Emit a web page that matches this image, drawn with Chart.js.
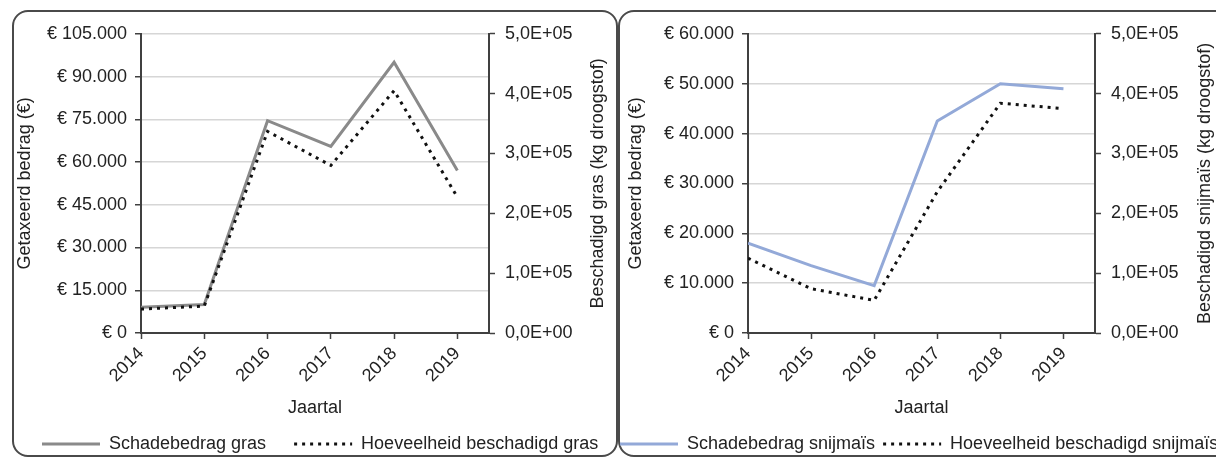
<!DOCTYPE html>
<html>
<head>
<meta charset="utf-8">
<script src="https://cdn.jsdelivr.net/npm/chart.js@4.4.1/dist/chart.umd.min.js"></script>
<style>
  html, body { margin: 0; padding: 0; background: #fff; overflow: hidden; }
  #wrap { position: relative; width: 1216px; height: 457px; overflow: hidden; }
  .frame { position: absolute; border: 2px solid #4a4a4a; border-radius: 16px; box-sizing: border-box; }
  canvas { position: absolute; }
</style>
</head>
<body>
<div id="wrap">
  <div class="frame" style="left:12px;top:10px;width:606px;height:447px"></div>
  <div class="frame" style="left:618px;top:10px;width:660px;height:447px"></div>
  <canvas id="gras" width="640" height="450" style="left:14px;top:13px"></canvas>
  <canvas id="mais" width="700" height="450" style="left:612px;top:13px"></canvas>
</div>
<script>
// data
var years = [2014, 2015, 2016, 2017, 2018, 2019];
var grasBedrag = [9000, 10000, 74500, 65500, 95000, 57000];
var grasHoeveelheid = [40000, 45000, 337000, 280000, 405000, 227000];
var maisBedrag = [18000, 13500, 9500, 42500, 50000, 49000];
var maisHoeveelheid = [125000, 74000, 54500, 236000, 384000, 375000];

var grasEuroTicks = [0, 15000, 30000, 45000, 60000, 75000, 90000, 105000];
var maisEuroTicks = [0, 10000, 20000, 30000, 40000, 50000, 60000];
var kgTicks = [0, 100000, 200000, 300000, 400000, 500000];

var FONT = { family: "'Liberation Sans', Arial, sans-serif", size: 18 };
var TXT = "#222";
var AX = "#404040";
var GRID = "#d6d6d6";

function euro(v) {
  var s = String(Math.round(v)).replace(/\B(?=(\d{3})+(?!\d))/g, ".");
  return "€ " + s;
}
function expo(v) {
  var p = Number(v).toExponential(1).split("e");
  var sign = p[1].charAt(0) === "-" ? "-" : "+";
  var d = p[1].replace(/[+-]/, "");
  if (d.length < 2) d = "0" + d;
  return p[0].replace(".", ",") + "E" + sign + d;
}
function pts(vals) {
  return years.map(function (y, i) { return { x: y, y: vals[i] }; });
}

// right axis title reads bottom-to-top, Chart.js would rotate it the other way
var rightTitle = {
  id: "rightTitle",
  afterDraw: function (chart, args, opts) {
    var ctx = chart.ctx, a = chart.chartArea;
    ctx.save();
    ctx.translate(opts.x, (a.top + a.bottom) / 2);
    ctx.rotate(-Math.PI / 2);
    ctx.font = FONT.size + "px " + FONT.family;
    ctx.fillStyle = TXT;
    ctx.textAlign = "center";
    ctx.textBaseline = "middle";
    ctx.fillText(opts.text, 0, 0);
    ctx.restore();
  }
};

// legend line keeps the dataset's dash pattern
function legendLabels(chart) {
  var items = Chart.defaults.plugins.legend.labels.generateLabels(chart);
  items.forEach(function (it) {
    var ds = chart.data.datasets[it.datasetIndex];
    it.lineDash = ds.borderDash || [];
    it.lineWidth = ds.borderWidth;
    it.strokeStyle = ds.borderColor;
  });
  return items;
}

function getChart(canvasId, cfg) {
  var cv = document.getElementById(canvasId);
  var H = cv.height;
  return new Chart(cv, {
    type: "line",
    data: {
      datasets: [
        {
          label: cfg.label1, data: pts(cfg.bedrag), yAxisID: "y",
          borderColor: cfg.color, backgroundColor: cfg.color, borderWidth: 3,
          pointRadius: 0, pointStyle: "line", tension: 0, order: 1
        },
        {
          label: cfg.label2, data: pts(cfg.hoeveelheid), yAxisID: "y2",
          borderColor: "#111", backgroundColor: "#111", borderWidth: 3, borderDash: [3, 5],
          pointRadius: 0, pointStyle: "line", tension: 0, order: 0
        }
      ]
    },
    options: {
      responsive: false,
      animation: false,
      layout: { padding: { top: 16, bottom: 0, left: 0, right: 0 } },
      plugins: {
        tooltip: { enabled: false },
        legend: {
          position: "bottom",
          align: "start",
          labels: {
            usePointStyle: true, pointStyleWidth: 58, padding: cfg.legendPad,
            color: TXT, font: FONT,
            generateLabels: legendLabels,
            sort: function (a, b) { return a.datasetIndex - b.datasetIndex; }
          }
        },
        rightTitle: { text: cfg.rightTitle, x: cfg.rightTitleX }
      },
      scales: {
        x: {
          type: "linear", min: years[0], max: years[years.length - 1] + 0.5,
          afterBuildTicks: function (s) { s.ticks = years.map(function (v) { return { value: v }; }); },
          afterFit: function (s) { s.height = H - s.chart.legend.height - (333 - 13); },
          grid: { drawOnChartArea: false, tickLength: 6, tickColor: AX, tickWidth: 1.5 },
          border: { color: AX, width: 2 },
          ticks: { minRotation: 45, maxRotation: 45, padding: 4, color: TXT, font: FONT,
                   callback: function (v) { return String(v); } },
          title: { display: true, text: "Jaartal", color: TXT, font: FONT,
                   padding: { top: 0, bottom: 16 - cfg.legendPad } }
        },
        y: {
          position: "left", min: 0, max: cfg.euroTicks[cfg.euroTicks.length - 1],
          afterBuildTicks: function (s) { s.ticks = cfg.euroTicks.map(function (v) { return { value: v }; }); },
          afterFit: function (s) { s.width = cfg.leftW; },
          grid: { color: GRID, lineWidth: 1.5, tickLength: 6, tickColor: AX, tickWidth: 1.5 },
          border: { color: AX, width: 2 },
          ticks: { padding: 8, color: TXT, font: FONT, callback: euro },
          title: { display: true, text: "Getaxeerd bedrag (€)", color: TXT, font: FONT,
                   padding: { top: cfg.leftTitlePad, bottom: 0 } }
        },
        y2: {
          position: "right", min: 0, max: 500000,
          afterBuildTicks: function (s) { s.ticks = kgTicks.map(function (v) { return { value: v }; }); },
          afterFit: function (s) { s.width = cfg.rightW; },
          grid: { drawOnChartArea: false, tickLength: 6, tickColor: AX, tickWidth: 1.5 },
          border: { color: AX, width: 2 },
          ticks: { padding: 10, color: TXT, font: FONT, callback: expo }
        }
      }
    },
    plugins: [rightTitle]
  });
}

getChart("gras", {
  label1: "Schadebedrag gras", label2: "Hoeveelheid beschadigd gras",
  bedrag: grasBedrag, hoeveelheid: grasHoeveelheid, color: "#8a8a8a",
  euroTicks: grasEuroTicks, leftW: 141 - 14, rightW: 640 - (489 - 14), leftTitlePad: 0,
  legendPad: 28,
  rightTitle: "Beschadigd gras (kg droogstof)", rightTitleX: 598 - 14
});
getChart("mais", {
  label1: "Schadebedrag snijmaïs", label2: "Hoeveelheid beschadigd snijmaïs",
  bedrag: maisBedrag, hoeveelheid: maisHoeveelheid, color: "#93a9d8",
  euroTicks: maisEuroTicks, leftW: 748 - 612, rightW: 700 - (1095 - 612), leftTitlePad: 13,
  legendPad: 8,
  rightTitle: "Beschadigd snijmaïs (kg droogstof)", rightTitleX: 1205 - 612
});
</script>
</body>
</html>
